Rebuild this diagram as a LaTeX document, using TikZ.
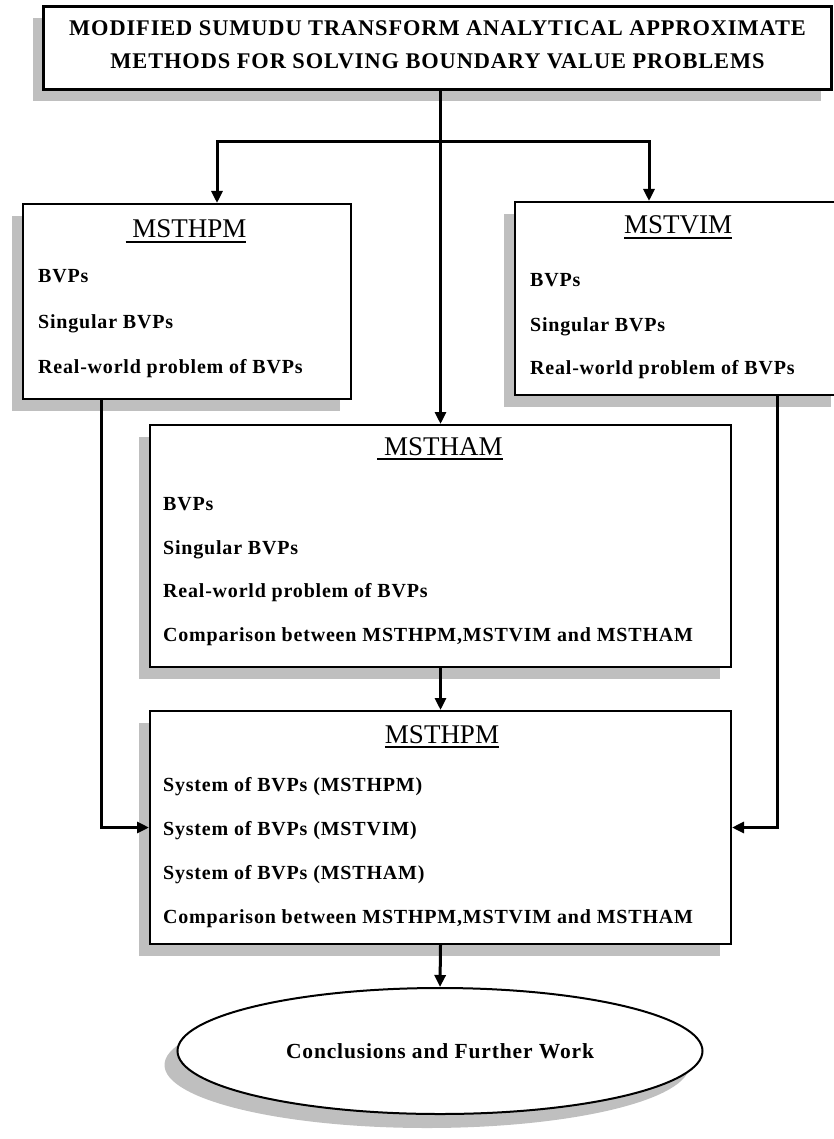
\documentclass[tikz,border=0pt]{standalone}
\usepackage{fontspec}
\setmainfont{Liberation Serif}
\newfontfamily\spacedfont[LetterSpace=4]{Liberation Serif}
\usetikzlibrary{arrows.meta}
\usetikzlibrary{positioning}
\usetikzlibrary{shadows}
\usetikzlibrary{shapes.geometric}

\newcommand{\ulhead}[1]{\setbox0=\hbox{#1}\rlap{\rule[-5pt]{\wd0}{2pt}}\box0}

\begin{document}
\begin{tikzpicture}[x=1pt,y=-1pt,
  shadowed/.style={drop shadow={shadow xshift=-11pt,shadow yshift=-12pt,fill=black!25,opacity=1}},
  box/.style={draw,line width=2pt,fill=white,anchor=north west,inner sep=0pt,shadowed},
  head/.style={anchor=base,inner sep=0pt,font=\fontsize{27}{32}\selectfont},
  item/.style={anchor=base west,inner sep=0pt,font=\spacedfont\bfseries\fontsize{20}{24}\selectfont},
  conn/.style={line width=3pt,-{Triangle[length=12pt,width=11pt]}}]
  \useasboundingbox (0,0) rectangle (834,1139);

  % boxes
  \node[box,line width=3pt,minimum width=788pt,minimum height=83pt] (title) at (42,5) {};
  \node[align=center,inner sep=0pt,font=\spacedfont\bfseries\fontsize{22.4}{33}\selectfont]
    (titletext) at ([yshift=3pt]title.center)
    {MODIFIED SUMUDU TRANSFORM ANALYTICAL APPROXIMATE\\METHODS FOR SOLVING BOUNDARY VALUE PROBLEMS};
  \node[box,minimum width=328pt,minimum height=195pt] (hpm) at (22,203) {};
  \node[box,minimum width=327pt,minimum height=193pt] (vim) at (514,201) {};
  \node[box,minimum width=581pt,minimum height=242pt] (ham) at (149,424) {};
  \node[box,minimum width=581pt,minimum height=233pt] (hpm2) at (149,710) {};
  \node[ellipse,draw,line width=2pt,fill=white,minimum width=525pt,minimum height=126pt,
    inner sep=0pt,drop shadow={shadow xshift=-13pt,shadow yshift=-14pt,fill=black!25,opacity=1},
    font=\spacedfont\bfseries\fontsize{21.5}{26}\selectfont] (concl) at (440,1051)
    {Conclusions and Further Work};

  % MSTHPM
  \node[head] (hpmhead) at (186,238) {\ulhead{\ MSTHPM}};
  \node[item] (hpm1) at (38,283) {BVPs};
  \node[item] (hpm2a) at (38,328) {Singular BVPs};
  \node[item] (hpm3) at (38,373) {Real-world problem of BVPs};

  % MSTVIM
  \node[head] (vimhead) at (678,234) {\ulhead{MSTVIM}};
  \node[item] (vim1) at (530,287) {BVPs};
  \node[item] (vim2) at (530,331) {Singular BVPs};
  \node[item] (vim3) at (530,374) {Real-world problem of BVPs};

  % MSTHAM
  \node[head] (hamhead) at (440,455) {\ulhead{\ MSTHAM}};
  \node[item] (ham1) at (163,510) {BVPs};
  \node[item] (ham2) at (163,554) {Singular BVPs};
  \node[item] (ham3) at (163,597) {Real-world problem of BVPs};
  \node[item] (ham4) at (163,641) {Comparison between MSTHPM,MSTVIM and MSTHAM};

  % systems
  \node[head] (syshead) at (442,743) {\ulhead{MSTHPM}};
  \node[item] (sys1) at (163,791) {System of BVPs (MSTHPM)};
  \node[item] (sys2) at (163,835) {System of BVPs (MSTVIM)};
  \node[item] (sys3) at (163,879) {System of BVPs (MSTHAM)};
  \node[item] (sys4) at (163,923) {Comparison between MSTHPM,MSTVIM and MSTHAM};

  \coordinate (split) at (439.5,142);
  \coordinate (hpmin) at ([xshift=195pt]hpm.north west);
  \coordinate (vimin) at ([xshift=135pt]vim.north west);
  \coordinate (hpmout) at ([xshift=79pt]hpm.south west);
  \coordinate (vimout) at ([xshift=263pt]vim.south west);

  \draw[conn] (title.south -| ham.north) -- (ham.north);
  \draw[conn] (split) -| (hpmin);
  \draw[conn] (split) -| (vimin);
  \draw[conn] (hpmout) |- (hpm2.west);
  \draw[conn] (vimout) |- (hpm2.east);
  \draw[conn] (ham.south) -- (hpm2.north);
  \draw[conn] (hpm2.south) -- (concl.north);
\end{tikzpicture}
\end{document}
